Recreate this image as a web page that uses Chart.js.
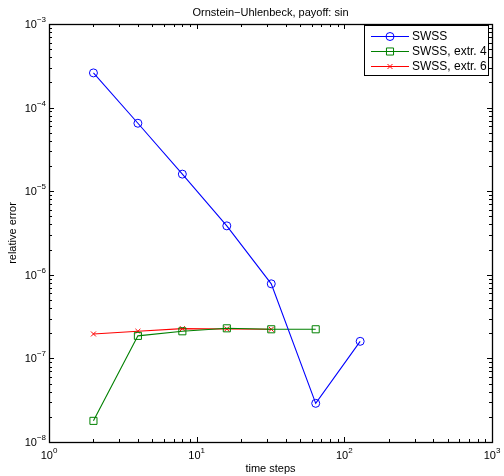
<!DOCTYPE html>
<html><head><meta charset="utf-8">
<script src="https://cdn.jsdelivr.net/npm/chart.js@4/dist/chart.umd.min.js"></script>
<style>html,body{margin:0;padding:0;background:#fff}#wrap{width:504px;height:476px}</style>
</head><body><div id="wrap"><canvas id="c" width="504" height="476"></canvas></div>
<script>
const titleText = "Ornstein\u2212Uhlenbeck, payoff: sin";
const xTitle = "time steps";
const yTitle = "relative error";
const steps = [2, 4, 8, 16, 32, 64, 128];
const swss = [2.6e-4, 6.5e-5, 1.6e-5, 3.85e-6, 7.8e-7, 2.9e-8, 1.6e-7];
const swssExtr4 = [1.79e-8, 1.86e-7, 2.11e-7, 2.29e-7, 2.23e-7, 2.23e-7];
const swssExtr6 = [1.96e-7, 2.11e-7, 2.27e-7, 2.25e-7, 2.23e-7];
const seriesLabels = ["SWSS", "SWSS, extr. 4", "SWSS, extr. 6"];
const xMajorExps = [0, 1, 2, 3];
const yMajorExps = [-8, -7, -6, -5, -4, -3];
const FONT = "'Liberation Sans', Arial, sans-serif";

function pts(xs, ys){ return ys.map((v,i)=>({x:xs[i], y:v})); }

const decor = {
  id: 'decor',
  afterDraw(chart){
    const ctx = chart.ctx, a = chart.chartArea;
    const xs = chart.scales.x, ys = chart.scales.y;
    ctx.save();
    ctx.strokeStyle = '#000'; ctx.lineWidth = 1;
    ctx.beginPath();
    for (const e of xMajorExps){
      for (let m=1;m<=9;m++){
        const v = m*Math.pow(10,e);
        if (v>1000) break;
        const px = Math.round(xs.getPixelForValue(v))+0.5;
        const len = m===1?5:3;
        ctx.moveTo(px,a.bottom); ctx.lineTo(px,a.bottom-len);
        ctx.moveTo(px,a.top); ctx.lineTo(px,a.top+len);
      }
    }
    for (const e of yMajorExps){
      for (let m=1;m<=9;m++){
        const v = m*Math.pow(10,e);
        if (v>1.0001e-3) break;
        const py = Math.round(ys.getPixelForValue(v))+0.5;
        const len = m===1?5:3;
        ctx.moveTo(a.left,py); ctx.lineTo(a.left+len,py);
        ctx.moveTo(a.right,py); ctx.lineTo(a.right-len,py);
      }
    }
    ctx.stroke();
    ctx.lineWidth = 1.3;
    ctx.strokeRect(Math.round(a.left)+0.5, Math.round(a.top)+0.5, Math.round(a.right-a.left), Math.round(a.bottom-a.top));
    ctx.fillStyle = '#000';
    const big = '11px '+FONT, small = '8px '+FONT;
    function expLabel(e){ return (e<0?'\u2212':'')+Math.abs(e); }
    for (const e of xMajorExps){
      const px = xs.getPixelForValue(Math.pow(10,e));
      ctx.font = big; const w1 = ctx.measureText('10').width;
      ctx.font = small; const es = expLabel(e); const w2 = ctx.measureText(es).width;
      const x0 = px - (w1+w2)/2;
      ctx.textBaseline = 'alphabetic'; ctx.textAlign='left';
      ctx.font = big; ctx.fillText('10', x0, a.bottom+17);
      ctx.font = small; ctx.fillText(es, x0+w1, a.bottom+11);
    }
    for (const e of yMajorExps){
      const py = ys.getPixelForValue(Math.pow(10,e));
      ctx.font = small; const es = expLabel(e); const w2 = ctx.measureText(es).width;
      ctx.font = big; const w1 = ctx.measureText('10').width;
      const x0 = a.left - 3 - w2 - w1;
      ctx.textAlign='left'; ctx.textBaseline='alphabetic';
      ctx.fillText('10', x0, py+4);
      ctx.font = small; ctx.fillText(es, x0+w1, py-2);
    }
    ctx.font = '11px '+FONT; ctx.textAlign='center'; ctx.textBaseline='middle';
    ctx.fillText(titleText, (a.left+a.right)/2, 13);
    ctx.fillText(xTitle, (a.left+a.right)/2, 469);
    ctx.save(); ctx.translate(13,(a.top+a.bottom)/2); ctx.rotate(-Math.PI/2);
    ctx.fillText(yTitle,0,0); ctx.restore();
    // legend
    const lx = 364.5, ly = 25.5, lw = 124, lh = 50;
    ctx.fillStyle='#fff'; ctx.fillRect(lx,ly,lw,lh);
    ctx.strokeStyle='#000'; ctx.lineWidth=1; ctx.strokeRect(lx,ly,lw,lh);
    chart.data.datasets.forEach((ds,i)=>{
      const yy = 36.5 + i*15;
      ctx.strokeStyle = ds.borderColor; ctx.fillStyle = 'rgba(0,0,0,0)'; ctx.lineWidth=1;
      ctx.beginPath(); ctx.moveTo(371,yy); ctx.lineTo(409,yy); ctx.stroke();
      Chart.helpers.drawPoint(ctx, {pointStyle: ds.pointStyle, rotation:0, borderWidth:1, radius: ds.pointRadius}, 390, yy);
      ctx.fillStyle='#000'; ctx.font='12px '+FONT; ctx.textAlign='left'; ctx.textBaseline='middle';
      ctx.fillText(ds.label, 412, yy+0.5);
    });
    ctx.restore();
  }
};

const chart = new Chart(document.getElementById('c'), {
  type: 'line',
  data: {
    datasets: [
      {label: seriesLabels[0], data: pts(steps, swss), borderColor:'#0000ff', backgroundColor:'rgba(0,0,0,0)',
       pointStyle:'circle', pointRadius:4, pointBorderWidth:1, borderWidth:1.1},
      {label: seriesLabels[1], data: pts(steps, swssExtr4), borderColor:'#008000', backgroundColor:'rgba(0,0,0,0)',
       pointStyle:'rect', pointRadius:5, pointBorderWidth:1, borderWidth:1.1},
      {label: seriesLabels[2], data: pts(steps, swssExtr6), borderColor:'#ff0000', backgroundColor:'rgba(0,0,0,0)',
       pointStyle:'crossRot', pointRadius:3.5, pointBorderWidth:1, borderWidth:1.1}
    ]
  },
  options: {
    responsive:false, animation:false, devicePixelRatio:1,
    layout:{padding:{top:24, right:12, left:0, bottom:0}},
    plugins:{legend:{display:false}, title:{display:false}, tooltip:{enabled:false}},
    elements:{line:{tension:0}},
    scales:{
      x:{type:'logarithmic', min:1, max:1000, ticks:{display:false}, grid:{display:false}, border:{display:false},
         afterFit(s){ s.height = 34; }},
      y:{type:'logarithmic', min:1e-8, max:1e-3, ticks:{display:false}, grid:{display:false}, border:{display:false},
         afterFit(s){ s.width = 49; }}
    }
  },
  plugins:[decor]
});
</script></body></html>
